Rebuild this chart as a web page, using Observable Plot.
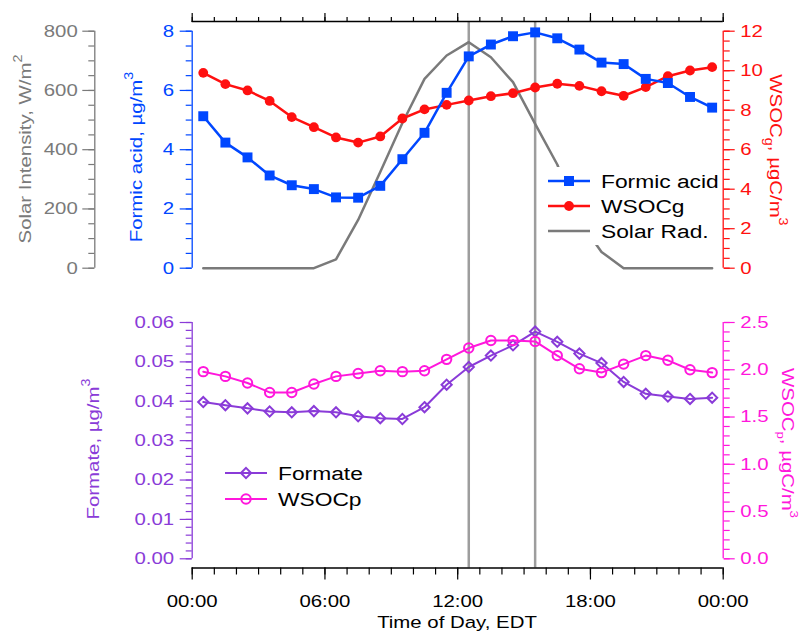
<!DOCTYPE html>
<html><head><meta charset="utf-8">
<script src="https://cdn.jsdelivr.net/npm/d3@7"></script>
<script src="https://cdn.jsdelivr.net/npm/@observablehq/plot@0.6"></script>
<style>
body{margin:0;background:#fff;}
#chart{position:relative;width:804px;height:632px;overflow:hidden;background:#fff;}
#chart svg{position:absolute;left:0;top:0;}
</style></head><body><div id="chart"></div>
<script>
// ---- data (hour of day, EDT, bin centres) ----
const hours = [0.5,1.5,2.5,3.5,4.5,5.5,6.5,7.5,8.5,9.5,10.5,11.5,12.5,13.5,14.5,15.5,16.5,17.5,18.5,19.5,20.5,21.5,22.5,23.5];
const formicAcid = [5.13,4.24,3.74,3.13,2.80,2.67,2.39,2.38,2.78,3.68,4.57,5.92,7.15,7.55,7.83,7.96,7.76,7.38,6.94,6.89,6.39,6.25,5.78,5.42];
const wsocG = [9.89,9.32,9.00,8.47,7.65,7.14,6.62,6.36,6.67,7.58,8.04,8.27,8.49,8.71,8.86,9.15,9.34,9.23,8.96,8.73,9.17,9.72,10.01,10.18];
const solarIntensity = [0,0,0,0,0,0,30,163,325,490,639,718,763,712,628,487,350,160,55,0,0,0,0,0];
const formate = [0.0398,0.0390,0.0382,0.0374,0.0372,0.0375,0.0372,0.0362,0.0357,0.0355,0.0385,0.0442,0.0487,0.0516,0.0542,0.0577,0.0551,0.0521,0.0497,0.0449,0.0419,0.0412,0.0406,0.0409];
const wsocP = [1.98,1.93,1.86,1.76,1.76,1.85,1.93,1.96,1.99,1.98,1.99,2.11,2.23,2.31,2.31,2.30,2.15,2.01,1.97,2.06,2.15,2.10,2.00,1.97];
const referenceHours = [12.5, 15.5];

// ---- ticks ----
const timeTicks = [0,6,12,18,24];
const timeLabels = ["00:00","06:00","12:00","18:00","00:00"];
const hourTicks = [0,1,2,3,4,5,6,7,8,9,10,11,12,13,14,15,16,17,18,19,20,21,22,23,24];
const solarTicks = [0,200,400,600,800];
const formicTicks = [0,2,4,6,8];
const wsocGTicks = [0,2,4,6,8,10,12];
const formateTicks = [0,0.01,0.02,0.03,0.04,0.05,0.06];
const wsocPTicks = [0,0.5,1.0,1.5,2.0,2.5];

// ---- style ----
const FONT = '"Liberation Sans", Arial, Helvetica, sans-serif';
const SX = 1.2;
const blue="#0047ff", red="#ff1010", gray="#7a7a7a", purple="#8a3bd8", pink="#ff17dc", refGray="#9d9d9d";
const W=804, H=632, XL=191.7, XR=722.7;
const TOP_T=30.7, TOP_B=267.7, BOT_T=322, BOT_B=558.3, AX_T=21, AX_B=567.5;

const rows = hours.map((h,i)=>({h, formic:formicAcid[i], wsocg:wsocG[i], solar:solarIntensity[i], formate:formate[i], wsocp:wsocP[i]}));
const chart = document.getElementById("chart");

function stretch(root){
  root.querySelectorAll("text").forEach(t=>{
    const tr = t.getAttribute("transform") || "";
    t.setAttribute("transform", (tr + " scale(" + SX + ",1)").trim());
  });
}
function layer(color, opts){
  const svg = Plot.plot(Object.assign({width:W, height:H,
    style:{background:"transparent", overflow:"visible", fontFamily:FONT, fontSize:"17px", color}}, opts));
  stretch(svg);
  chart.appendChild(svg);
}
function minor(lo, hi, step){ const n=Math.round((hi-lo)/step); return d3.range(n+1).map(i=>lo+i*step); }

const topM = {marginLeft:XL, marginRight:W-XR, marginTop:TOP_T, marginBottom:H-TOP_B};
const botM = {marginLeft:XL, marginRight:W-XR, marginTop:BOT_T, marginBottom:H-BOT_B};

// time axes and reference lines
layer("#000", {marginLeft:XL, marginRight:W-XR, marginTop:AX_T, marginBottom:H-AX_B,
  x:{domain:[0,24]}, y:{domain:[0,1], axis:null},
  marks:[
    Plot.ruleX(referenceHours, {stroke:refGray, strokeWidth:2.5}),
    Plot.ruleY([0,1], {strokeWidth:1.3}),
    Plot.axisX({anchor:"top", ticks:hourTicks, tickSize:5, strokeWidth:1.2, fill:"none", label:null}),
    Plot.axisX({anchor:"top", ticks:timeTicks, tickSize:9, strokeWidth:1.2, fill:"none", label:null}),
    Plot.axisX({anchor:"bottom", ticks:hourTicks, tickSize:7, strokeWidth:1.2, fill:"none", label:null}),
    Plot.axisX({anchor:"bottom", ticks:timeTicks, tickSize:12, strokeWidth:1.2, tickPadding:15,
      tickFormat:d=>timeLabels[timeTicks.indexOf(d)], label:null})
  ]});

// solar intensity axis (offset to the left)
layer(gray, {marginLeft:94.3, marginRight:W-94.3-50, marginTop:TOP_T, marginBottom:H-TOP_B,
  x:{domain:[0,1], axis:null}, y:{domain:[0,800]},
  marks:[
    Plot.ruleX([0], {strokeWidth:1.3}),
    Plot.axisY({ticks:minor(0,800,50), tickSize:6, strokeWidth:1.2, fill:"none", label:null}),
    Plot.axisY({ticks:solarTicks, tickSize:12, strokeWidth:1.2, tickPadding:5, label:null})
  ]});

// solar line
layer(gray, Object.assign({}, topM, {x:{domain:[0,24], axis:null}, y:{domain:[0,800], axis:null},
  marks:[Plot.line(rows, {x:"h", y:"solar", stroke:gray, strokeWidth:2.5})]}));

// WSOCg (right axis)
layer(red, Object.assign({}, topM, {x:{domain:[0,24], axis:null}, y:{domain:[0,12]},
  marks:[
    Plot.ruleX([24], {strokeWidth:1.3}),
    Plot.axisY({anchor:"right", ticks:minor(0,12,0.5), tickSize:6, strokeWidth:1.2, fill:"none", label:null}),
    Plot.axisY({anchor:"right", ticks:wsocGTicks, tickSize:11, strokeWidth:1.2, tickPadding:6, label:null}),
    Plot.line(rows, {x:"h", y:"wsocg", stroke:red, strokeWidth:2.5}),
    Plot.dot(rows, {x:"h", y:"wsocg", r:4.9, fill:red, stroke:"none"})
  ]}));

// Formic acid (left axis)
layer(blue, Object.assign({}, topM, {x:{domain:[0,24], axis:null}, y:{domain:[0,8]},
  marks:[
    Plot.ruleX([0], {strokeWidth:1.3}),
    Plot.axisY({ticks:minor(0,8,0.5), tickSize:6, strokeWidth:1.2, fill:"none", label:null}),
    Plot.axisY({ticks:formicTicks, tickSize:12, strokeWidth:1.2, tickPadding:6, label:null}),
    Plot.line(rows, {x:"h", y:"formic", stroke:blue, strokeWidth:2.5}),
    Plot.dot(rows, {x:"h", y:"formic", symbol:"square", r:5.6, fill:blue, stroke:"none"})
  ]}));

// Formate (bottom, left axis)
layer(purple, Object.assign({}, botM, {x:{domain:[0,24], axis:null}, y:{domain:[0,0.06]},
  marks:[
    Plot.ruleX([0], {strokeWidth:1.3}),
    Plot.axisY({ticks:minor(0,0.06,0.002), tickSize:6, strokeWidth:1.2, fill:"none", label:null}),
    Plot.axisY({ticks:formateTicks, tickSize:12, strokeWidth:1.2, tickPadding:6, tickFormat:d3.format(".2f"), label:null}),
    Plot.line(rows, {x:"h", y:"formate", stroke:purple, strokeWidth:2}),
    Plot.dot(rows, {x:"h", y:"formate", symbol:"diamond2", r:4.6, fill:"none", stroke:purple, strokeWidth:2})
  ]}));

// WSOCp (bottom, right axis)
layer(pink, Object.assign({}, botM, {x:{domain:[0,24], axis:null}, y:{domain:[0,2.5]},
  marks:[
    Plot.ruleX([24], {strokeWidth:1.3}),
    Plot.axisY({anchor:"right", ticks:minor(0,2.5,0.1), tickSize:6, strokeWidth:1.2, fill:"none", label:null}),
    Plot.axisY({anchor:"right", ticks:wsocPTicks, tickSize:11, strokeWidth:1.2, tickPadding:6, tickFormat:d3.format(".1f"), label:null}),
    Plot.line(rows, {x:"h", y:"wsocp", stroke:pink, strokeWidth:2}),
    Plot.dot(rows, {x:"h", y:"wsocp", r:4.7, fill:"none", stroke:pink, strokeWidth:2})
  ]}));

// ---- overlay: titles and legends ----
const ov = d3.select(chart).append("svg").attr("width",W).attr("height",H)
  .attr("font-family", FONT).attr("font-size", 17);

function title(x, y, rot, color, parts, supSize){
  const t = ov.append("text").attr("transform", `translate(${x},${y}) rotate(${rot}) scale(${SX},1)`)
    .attr("text-anchor","middle").attr("fill", color);
  let shift = 0;
  parts.forEach(p=>{
    const target = p.s || 0;
    const ts = t.append("tspan").text(p.t).attr("font-size", p.s ? (supSize||12) : 17);
    if (target !== shift) { ts.attr("dy", target - shift); shift = target; }
  });
}
title(31, 149, -90, gray, [{t:"Solar Intensity, W/m"},{t:"2", s:-9}]);
title(141.5, 157, -90, blue, [{t:"Formic acid, µg/m"},{t:"3", s:-9}]);
title(770, 150, 90, red, [{t:"WSOC"},{t:"g", s:5},{t:", µgC/m"},{t:"3", s:-9}]);
title(99, 449, -90, purple, [{t:"Formate, µg/m"},{t:"3", s:-9}]);
title(782, 443, 90, pink, [{t:"WSOC"},{t:"p", s:5},{t:", µgC/m"},{t:"3", s:-8}], 11);
title(457, 628, 0, "#000", [{t:"Time of Day, EDT"}]);

const topLegend = [
  {label:"Formic acid", color:blue, sym:d3.symbolSquare, size:100, fill:true},
  {label:"WSOCg", color:red, sym:d3.symbolCircle, size:Math.PI*4.9*4.9, fill:true},
  {label:"Solar Rad.", color:gray, sym:null}
];
const botLegend = [
  {label:"Formate", color:purple, sym:d3.symbolDiamond2, size:Math.PI*4.6*4.6, fill:false, w:2},
  {label:"WSOCp", color:pink, sym:d3.symbolCircle, size:Math.PI*4.7*4.7, fill:false, w:2}
];
ov.append("rect").attr("x",546).attr("y",167).attr("width",174).attr("height",78).attr("fill","#fff");
function legend(items, x0, x1, xt, y0, dy, lw){
  items.forEach((d,i)=>{
    const y = y0 + i*dy, g = ov.append("g");
    g.append("line").attr("x1",x0).attr("x2",x1).attr("y1",y).attr("y2",y).attr("stroke",d.color).attr("stroke-width",d.w||lw);
    if (d.sym) g.append("path").attr("d", d3.symbol(d.sym, d.size)()).attr("transform",`translate(${(x0+x1)/2},${y})`)
      .attr("fill", d.fill ? d.color : "none").attr("stroke", d.fill ? "none" : d.color).attr("stroke-width", d.w||0);
    g.append("text").attr("transform",`translate(${xt},${y}) scale(${SX},1)`).attr("dy","0.35em")
      .attr("font-size",19).attr("fill","#000").text(d.label);
  });
}
legend(topLegend, 548, 590, 601, 181, 25, 2.5);
legend(botLegend, 225, 267, 278, 473, 26, 2);
</script></body></html>
